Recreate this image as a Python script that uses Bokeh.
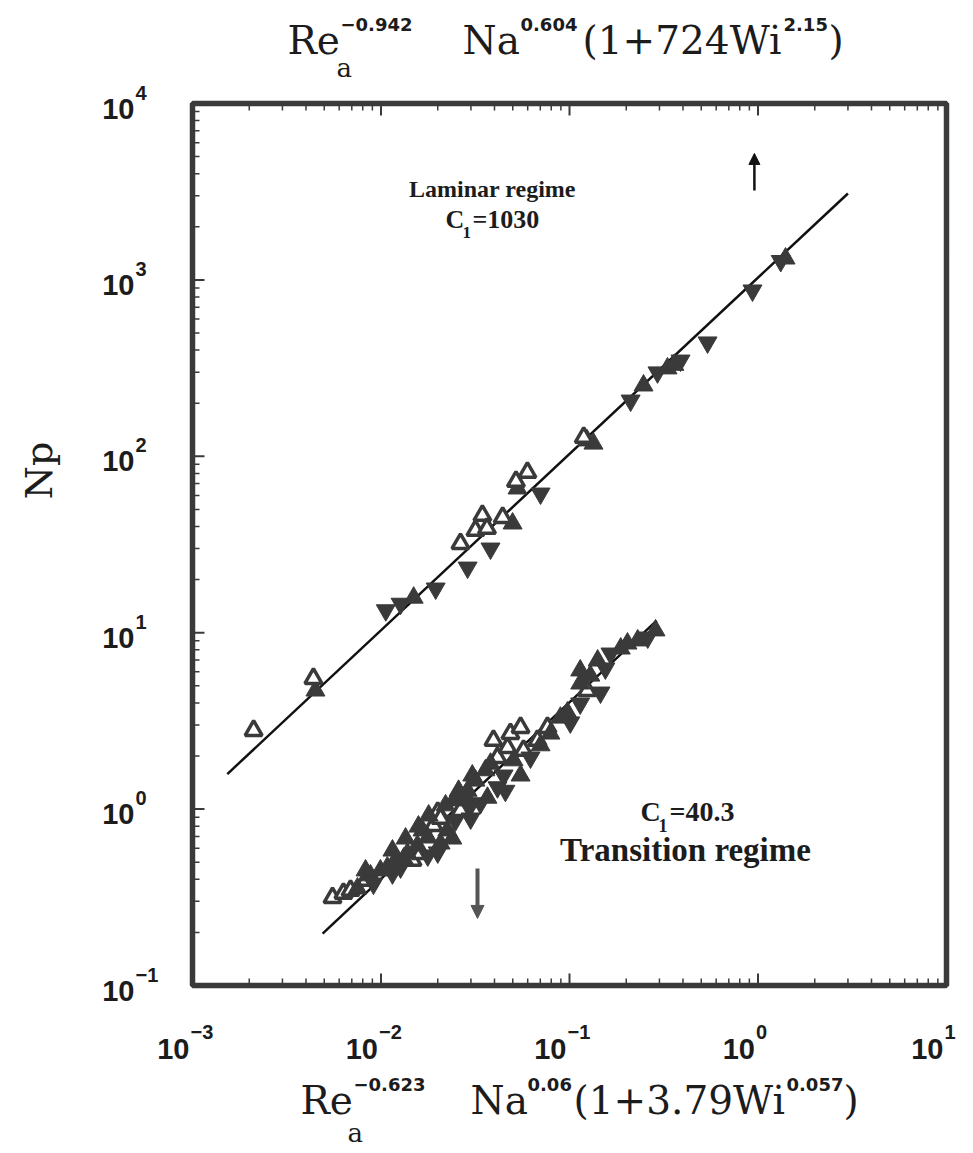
import math
from bokeh.plotting import figure
from bokeh.models import Range1d, Label, Arrow, NormalHead
from bokeh.embed import file_html
from bokeh.resources import INLINE

# ---------------- data ----------------
X_MIN, X_MAX = 1e-3, 1e1
Y_MIN, Y_MAX = 1e-1, 1e4
X_TICKS = [1e-3, 1e-2, 1e-1, 1e0, 1e1]
X_TICK_EXP = ["\u22123", "\u22122", "\u22121", "0", "1"]
Y_TICKS = [1e-1, 1e0, 1e1, 1e2, 1e3, 1e4]
Y_TICK_EXP = ["\u22121", "0", "1", "2", "3", "4"]

# fitted lines (C1 = 1030 laminar, C1 = 40.3 transition)
LAM_LINE_X = [0.00153, 3.0]
LAM_LINE_Y = [1.58, 3090.0]
TRN_LINE_X = [0.0049, 0.29]
TRN_LINE_Y = [0.197, 11.7]

# laminar regime points
LAM_DOWN_X = [0.0106, 0.0127, 0.0195, 0.0288, 0.0381, 0.0702, 0.211, 0.293, 0.388, 0.540, 0.935, 1.32]
LAM_DOWN_Y = [13.4, 14.6, 17.8, 23.4, 30.0, 61.5, 207, 299, 349, 442, 871, 1280]
LAM_UP_X = [0.00449, 0.0149, 0.0499, 0.0530, 0.124, 0.134, 0.247, 0.331, 0.360, 1.40]
LAM_UP_Y = [4.70, 15.8, 41.6, 65.7, 123, 118, 252, 315, 330, 1322]
LAM_OPEN_X = [0.00211, 0.00438, 0.0264, 0.0317, 0.0345, 0.0365, 0.0442, 0.0520, 0.0598, 0.119]
LAM_OPEN_Y = [2.79, 5.50, 32.0, 38.0, 46.2, 39.0, 45.0, 72.0, 81.0, 128]

# transition regime points
TRN_DOWN_X = [0.00912, 0.0115, 0.0127, 0.0177, 0.0248, 0.0299, 0.0337, 0.0415, 0.0447,
              0.0621, 0.101, 0.114, 0.146, 0.155, 0.165, 0.260, 0.0200, 0.0299, 0.0457]
TRN_DOWN_Y = [0.378, 0.432, 0.467, 0.546, 0.861, 1.05, 1.08, 1.33, 1.55,
              1.96, 3.10, 3.97, 4.58, 6.27, 7.62, 9.39, 0.568, 0.885, 1.27]
TRN_UP_X = [0.00750, 0.00879, 0.00993, 0.0108, 0.0119, 0.0132, 0.0138, 0.0156, 0.0166,
            0.0177, 0.0207, 0.0225, 0.0243, 0.0280, 0.0288, 0.0317, 0.0358, 0.0381,
            0.0505, 0.0702, 0.0792, 0.0895, 0.0975, 0.114, 0.114, 0.129, 0.141,
            0.187, 0.203, 0.230, 0.286, 0.00828, 0.0115, 0.0135, 0.0158, 0.0179,
            0.0220, 0.0239, 0.0258, 0.0305, 0.0367, 0.0550]
TRN_UP_Y = [0.355, 0.421, 0.449, 0.467, 0.512, 0.525, 0.560, 0.622, 0.757,
            0.690, 0.638, 0.757, 1.12, 1.19, 1.27, 1.45, 1.66, 1.81,
            1.89, 2.30, 2.68, 3.30, 3.53, 5.15, 6.11, 5.71, 6.95,
            8.13, 8.68, 9.04, 10.3, 0.449, 0.582, 0.681, 0.796, 0.920,
            1.05, 0.681, 1.27, 1.55, 1.16, 1.55]
TRN_OPEN_X = [0.00553, 0.00632, 0.00689, 0.00828, 0.0147, 0.0162, 0.0190, 0.0200, 0.0207,
              0.0264, 0.0395, 0.0415, 0.0469, 0.0486, 0.0550, 0.0570, 0.0676, 0.0764, 0.124]
TRN_OPEN_Y = [0.315, 0.333, 0.346, 0.394, 0.512, 0.560, 0.807, 0.957, 0.885,
              0.982, 2.45, 1.96, 2.23, 2.68, 2.90, 2.15, 2.45, 2.90, 4.70]

# arrows (x, y_start, y_end)
UP_ARROW = (0.957, 3214, 5210)
DOWN_ARROW = (0.0325, 0.46, 0.24)

# ---------------- layout (pixels of the page) ----------------
W, H = 973, 1153
BOX_L, BOX_R, BOX_T, BOX_B = 192, 946, 103, 985
dx = (BOX_R - BOX_L) / math.log10(X_MAX / X_MIN)
dy = (BOX_B - BOX_T) / math.log10(Y_MAX / Y_MIN)
x_start = X_MIN / 10 ** (BOX_L / dx)
x_end = X_MAX * 10 ** ((W - BOX_R) / dx)
y_start = Y_MIN / 10 ** ((H - BOX_B) / dy)
y_end = Y_MAX * 10 ** (BOX_T / dy)

INK = "#3a3a3a"
TXT = "#1c1c1c"

p = figure(width=W, height=H, x_axis_type="log", y_axis_type="log",
           x_range=Range1d(x_start, x_end), y_range=Range1d(y_start, y_end),
           x_axis_location=None, y_axis_location=None,
           output_backend="svg", toolbar_location=None,
           min_border_left=0, min_border_right=0, min_border_top=0, min_border_bottom=0,
           background_fill_color="white", border_fill_color="white")
p.grid.visible = False
p.outline_line_color = None

# plot box
p.quad(left=[X_MIN], right=[X_MAX], bottom=[Y_MIN], top=[Y_MAX],
       fill_color=None, line_color=INK, line_width=5.5)

# ticks (inward on bottom, top and left)
MINOR_X = [m * t for t in X_TICKS[:-1] for m in range(2, 10)]
MINOR_Y = [m * t for t in Y_TICKS[:-1] for m in range(2, 10)]
for xs, ln, lw in [(X_TICKS, 12, 2), (MINOR_X, 7, 1.5)]:
    p.ray(x=xs, y=[Y_MIN] * len(xs), length=ln, length_units="screen", angle=math.pi / 2,
          line_color=INK, line_width=lw)
    p.ray(x=xs, y=[Y_MAX] * len(xs), length=ln, length_units="screen", angle=-math.pi / 2,
          line_color=INK, line_width=lw)
for ys, ln, lw in [(Y_TICKS, 12, 2), (MINOR_Y, 7, 1.5)]:
    p.ray(x=[X_MIN] * len(ys), y=ys, length=ln, length_units="screen", angle=0,
          line_color=INK, line_width=lw)

# fitted lines
p.line(LAM_LINE_X, LAM_LINE_Y, line_color="#111111", line_width=2.5)
p.line(TRN_LINE_X, TRN_LINE_Y, line_color="#111111", line_width=2.5)

MS = 19
# transition: open symbols lie mostly beneath the filled ones
p.scatter(TRN_OPEN_X, TRN_OPEN_Y, marker="triangle", size=MS - 2, fill_color="white",
          line_color=INK, line_width=3.5)
p.scatter(TRN_DOWN_X, TRN_DOWN_Y, marker="inverted_triangle", size=MS, fill_color=INK,
          line_color=INK, line_width=1)
p.scatter(TRN_UP_X, TRN_UP_Y, marker="triangle", size=MS, fill_color=INK, line_color=INK, line_width=1)
# laminar
p.scatter(LAM_DOWN_X, LAM_DOWN_Y, marker="inverted_triangle", size=MS, fill_color=INK,
          line_color=INK, line_width=1)
p.scatter(LAM_UP_X, LAM_UP_Y, marker="triangle", size=MS, fill_color=INK, line_color=INK, line_width=1)
p.scatter(LAM_OPEN_X, LAM_OPEN_Y, marker="triangle", size=MS - 2, fill_color="white",
          line_color=INK, line_width=3.5)

# arrows
p.add_layout(Arrow(end=NormalHead(size=11, fill_color="#111111", line_color="#111111"),
                   x_start=UP_ARROW[0], y_start=UP_ARROW[1], x_end=UP_ARROW[0], y_end=UP_ARROW[2],
                   line_color="#111111", line_width=2.5))
p.add_layout(Arrow(end=NormalHead(size=13, fill_color="#555555", line_color="#555555"),
                   x_start=DOWN_ARROW[0], y_start=DOWN_ARROW[1], x_end=DOWN_ARROW[0], y_end=DOWN_ARROW[2],
                   line_color="#555555", line_width=4))

BASE_SHIFT = 0.32  # the svg backend draws alphabetic baselines about 1/3 em low


def lab(text, x, y, size, font, style="normal", align="left", baseline="alphabetic",
        xu="screen", yu="screen", angle=0.0, xo=0, yo=0, color=TXT):
    if baseline == "alphabetic":
        yo = yo + round(BASE_SHIFT * size)
    p.add_layout(Label(x=x, y=y, x_units=xu, y_units=yu, text=text,
                       text_font=font, text_font_size=f"{size}px", text_font_style=style,
                       text_align=align, text_baseline=baseline, angle=angle,
                       x_offset=xo, y_offset=yo, text_color=color))


# tick labels
TF = "Liberation Sans"
for v, e in zip(X_TICKS, X_TICK_EXP):
    lab("10", v, Y_MIN, 29, TF, "bold", "right", xu="data", yu="data", xo=-3, yo=-72)
    lab(e, v, Y_MIN, 20, TF, "bold", "left", xu="data", yu="data", xo=-2, yo=-52)
for v, e in zip(Y_TICKS, Y_TICK_EXP):
    lab("10", X_MIN, v, 29, TF, "bold", "right", xu="data", yu="data", xo=-58, yo=-14)
    lab(e, X_MIN, v, 20, TF, "bold", "left", xu="data", yu="data", xo=-57, yo=5)

# axis titles (screen units from the page's bottom-left corner)
SF = "DejaVu Serif"
EF = "DejaVu Sans"
TS, ES, SS = 39, 18, 26
# top: Re_a^-0.942 Na^0.604 (1+724Wi^2.15)
lab("Re", 287, H - 52, TS, SF)
lab("a", 336, H - 75, SS, SF)
lab("\u22120.942", 340, H - 30, ES, EF, "bold")
lab("Na", 462, H - 52, TS, SF)
lab("0.604", 520, H - 30, ES, EF, "bold")
lab("(1+724Wi", 582, H - 52, TS, SF)
lab("2.15", 783, H - 30, ES, EF, "bold")
lab(")", 828, H - 52, TS, SF)
# bottom: Re_a^-0.623 Na^0.06 (1+3.79Wi^0.057)
lab("Re", 300, H - 1112, TS, SF)
lab("a", 347, H - 1140, SS, SF)
lab("\u22120.623", 353, H - 1090, ES, EF, "bold")
lab("Na", 470, H - 1112, TS, SF)
lab("0.06", 527, H - 1090, ES, EF, "bold")
lab("(1+3.79Wi", 573, H - 1112, TS, SF)
lab("0.057", 786, H - 1090, ES, EF, "bold")
lab(")", 843, H - 1112, TS, SF)
# y title
lab("Np", 38, H - 470, 38, SF, align="center", baseline="middle", angle=math.pi / 2)

# regime annotations
AF = "Liberation Serif"
lab("Laminar regime", 492, H - 196, 24, AF, "bold", "center")
lab("C", 445, H - 227, 26, AF, "bold")
lab("1", 462, H - 237, 17, AF, "bold")
lab("=1030", 472, H - 227, 26, AF, "bold")
lab("C", 640, H - 820, 28, AF, "bold")
lab("1", 658, H - 831, 18, AF, "bold")
lab("=40.3", 669, H - 820, 28, AF, "bold")
lab("Transition regime", 685, H - 860, 33, AF, "bold", "center")

open("out.html", "w").write(file_html(p, INLINE))
